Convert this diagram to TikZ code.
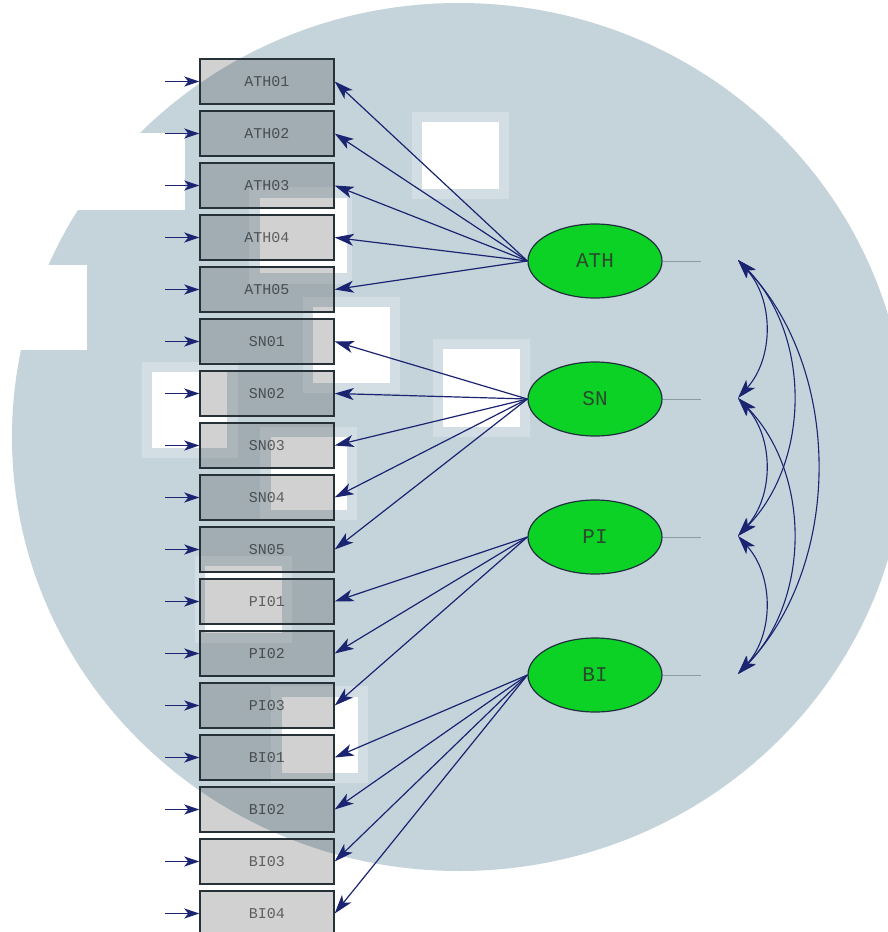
\documentclass[tikz,border=0pt]{standalone}
\usepackage{fontspec}
\newfontfamily\labfont{Liberation Mono}
\usetikzlibrary{arrows.meta,shapes.geometric}
\definecolor{wm}{HTML}{C5D4DB}
\definecolor{navy}{HTML}{1B2470}
\definecolor{lvgreen}{HTML}{0CD225}
\definecolor{boxline}{HTML}{263238}
\definecolor{ellline}{HTML}{203040}
\definecolor{lvtext}{HTML}{2A4A2E}
\definecolor{stubcol}{HTML}{8A9BA2}
\begin{document}
\begin{tikzpicture}[x=1pt,y=-1pt,
  obs/.style={draw=boxline, line width=1.4pt, fill=black, fill opacity=0.18,
    text=black, text opacity=0.55, minimum width=134pt, minimum height=45pt,
    inner sep=0pt, font=\labfont\fontsize{15}{15}\selectfont},
  lat/.style={ellipse, draw=ellline, line width=1.2pt, fill=lvgreen,
    minimum width=134pt, minimum height=74pt, inner sep=0pt, text=lvtext,
    font=\labfont\fontsize{21}{21}\selectfont},
  bighead/.tip={Stealth[length=19pt,width=12pt,inset=5pt,fill=navy]},
  smallhead/.tip={Stealth[length=15pt,width=10pt,inset=4pt,fill=navy]},
  load/.style={draw=navy, line width=1.2pt, -bighead},
  err/.style={draw=navy, line width=1.8pt, -smallhead},
  cov/.style={draw=navy, line width=1.1pt, bighead-bighead},
  stub/.style={draw=stubcol, line width=0.9pt},
  halfpatch/.style={fill=white, fill opacity=0.25},
  fullpatch/.style={fill=white}]
\useasboundingbox (0,0) rectangle (887,932);
% background watermark
\fill[white] (0,0) rectangle (887,932);
\fill[wm] (459,437) ellipse [x radius=447pt, y radius=434pt];
\fill[white] (0,133) rectangle (185,210);
\fill[white] (0,265) rectangle (87,350);
% patches: outer soft edge then inner white
\fill[halfpatch] (412,112) rectangle (509,199); \fill[fullpatch] (422,122) rectangle (499,189);
\fill[halfpatch] (249,187) rectangle (352,284); \fill[fullpatch] (260,198) rectangle (347,273);
\fill[halfpatch] (433,339) rectangle (530,437); \fill[fullpatch] (443,349) rectangle (520,427);
\fill[halfpatch] (303,297) rectangle (400,393); \fill[fullpatch] (313,307) rectangle (390,383);
\fill[halfpatch] (142,362) rectangle (238,458); \fill[fullpatch] (152,372) rectangle (227,448);
\fill[halfpatch] (260,427) rectangle (357,520); \fill[fullpatch] (271,437) rectangle (347,510);
\fill[halfpatch] (195,556) rectangle (292,643); \fill[fullpatch] (205,566) rectangle (282,633);
\fill[halfpatch] (271,686) rectangle (368,783); \fill[fullpatch] (282,697) rectangle (358,773);
% observed variables
\foreach \nm [count=\i from 0] in {ATH01,ATH02,ATH03,ATH04,ATH05,SN01,SN02,SN03,SN04,SN05,PI01,PI02,PI03,BI01,BI02,BI03,BI04}{
  \node[obs] (\nm) at (267,{81.5+52*\i}) {\nm};
  \coordinate (e\nm) at (165,{81.5+52*\i});
  \draw[err] (e\nm) -- (\nm.west);
}
% latent variables
\node[lat] (ATH) at (595,261) {ATH};
\node[lat] (SN) at (595,399) {SN};
\node[lat] (PI) at (595,537) {PI};
\node[lat] (BI) at (595,675) {BI};
% stubs
\foreach \lv in {ATH,SN,PI,BI}{
  \coordinate (s\lv) at ([xshift=38pt]\lv.east);
  \draw[stub] (\lv.east) -- (s\lv);
}
% loadings
\foreach \ob in {ATH01,ATH02,ATH03,ATH04,ATH05}{\draw[load] (ATH.west) -- (\ob.east);}
\foreach \ob in {SN01,SN02,SN03,SN04,SN05}{\draw[load] (SN.west) -- (\ob.east);}
\foreach \ob in {PI01,PI02,PI03}{\draw[load] (PI.west) -- (\ob.east);}
\foreach \ob in {BI01,BI02,BI03,BI04}{\draw[load] (BI.west) -- (\ob.east);}
% covariances
\coordinate (cATH) at (738,260);
\coordinate (cSN) at (738,398);
\coordinate (cPI) at (738,536);
\coordinate (cBI) at (738,674);
\draw[cov] (cATH) .. controls +(36,40) and +(36,-40) .. (cSN);
\draw[cov] (cSN) .. controls +(36,40) and +(36,-40) .. (cPI);
\draw[cov] (cPI) .. controls +(36,40) and +(36,-40) .. (cBI);
\draw[cov] (cATH) .. controls +(73,75) and +(73,-75) .. (cPI);
\draw[cov] (cSN) .. controls +(73,75) and +(73,-75) .. (cBI);
\draw[cov] (cATH) .. controls +(105,110) and +(105,-110) .. (cBI);
\end{tikzpicture}
\end{document}
